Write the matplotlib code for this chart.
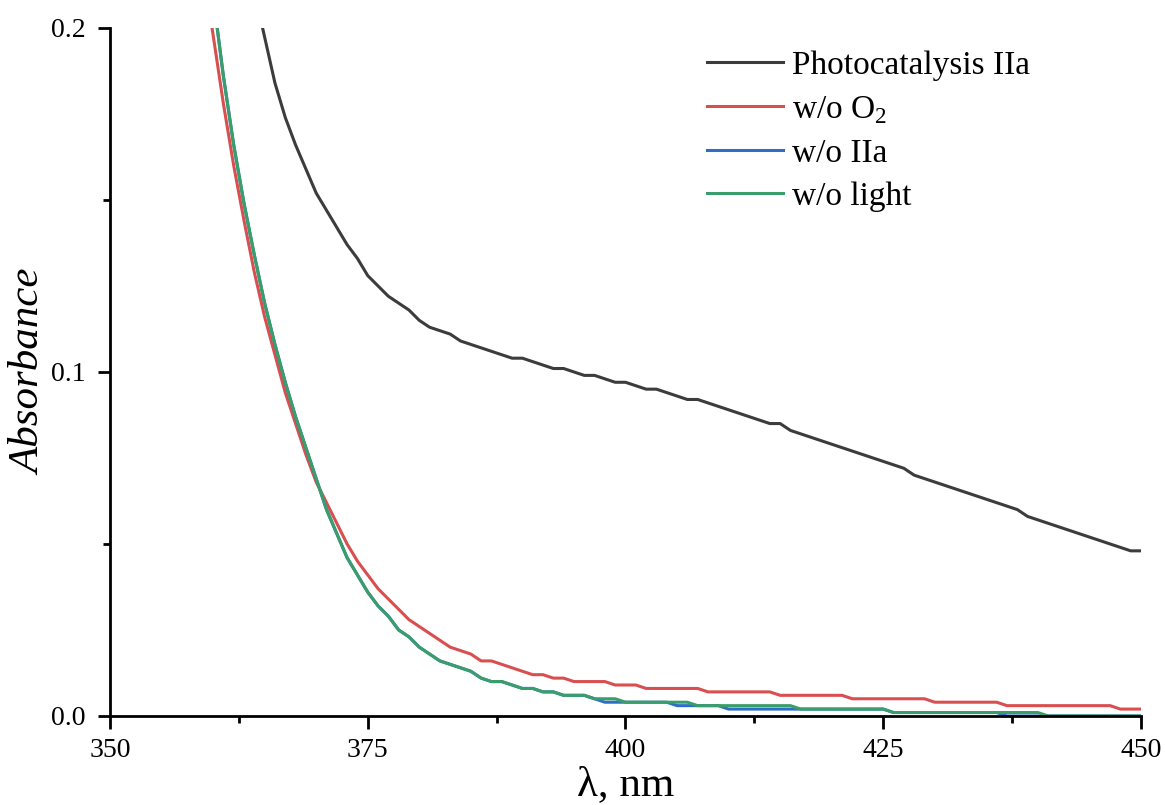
import numpy as np
import matplotlib
matplotlib.use('Agg')
import matplotlib.pyplot as plt
from matplotlib.ticker import MultipleLocator, FormatStrFormatter

plt.rcParams['font.family'] = ['Liberation Serif', 'DejaVu Serif']
plt.rcParams['mathtext.fontset'] = 'custom'
plt.rcParams['mathtext.rm'] = 'Liberation Serif'

# Photocatalysis IIa
wl_photo = [364.8, 366, 367, 368, 369, 370, 371, 372, 373, 374, 375, 376, 377, 378, 379, 380,
            381, 382, 383, 384, 385, 386, 387, 388, 389, 390, 391, 392, 393, 394, 395, 396,
            397, 398, 399, 400, 401, 402, 403, 404, 405, 406, 407, 408, 409, 410, 412, 414,
            415, 416, 418, 420, 422, 424, 426, 427, 428, 430, 432, 434, 436, 438, 439, 440,
            442, 444, 446, 448, 449, 450]
abs_photo = [0.200, 0.184, 0.174, 0.166, 0.159, 0.152, 0.147, 0.142, 0.137, 0.133, 0.128, 0.125,
             0.122, 0.120, 0.118, 0.115, 0.113, 0.112, 0.111, 0.109, 0.108, 0.107, 0.106, 0.105,
             0.104, 0.104, 0.103, 0.102, 0.101, 0.101, 0.100, 0.099, 0.099, 0.098, 0.097, 0.097,
             0.096, 0.095, 0.095, 0.094, 0.093, 0.092, 0.092, 0.091, 0.090, 0.089, 0.087, 0.085,
             0.085, 0.083, 0.081, 0.079, 0.077, 0.075, 0.073, 0.072, 0.070, 0.068, 0.066, 0.064,
             0.062, 0.060, 0.058, 0.057, 0.055, 0.053, 0.051, 0.049, 0.048, 0.048]

# w/o O2
wl_noO2 = [359.9, 361, 362, 363, 364, 365, 366, 367, 368, 369, 370, 371, 372, 373, 374, 375,
           376, 377, 378, 379, 380, 381, 382, 383, 384, 385, 386, 387, 388, 389, 390, 391, 392,
           393, 394, 395, 398, 399, 401, 402, 407, 408, 414, 415, 421, 422, 429, 430, 436, 437,
           447, 448, 450]
abs_noO2 = [0.200, 0.178, 0.160, 0.144, 0.129, 0.116, 0.105, 0.094, 0.085, 0.076, 0.068,
            0.062, 0.056, 0.050, 0.045, 0.041, 0.037, 0.034, 0.031, 0.028, 0.026, 0.024, 0.022,
            0.020, 0.019, 0.018, 0.016, 0.016, 0.015, 0.014, 0.013, 0.012, 0.012, 0.011, 0.011,
            0.010, 0.010, 0.009, 0.009, 0.008, 0.008, 0.007, 0.007, 0.006, 0.006, 0.005, 0.005,
            0.004, 0.004, 0.003, 0.003, 0.002, 0.002]

# w/o IIa
wl_noIIa = [360.4, 361, 362, 363, 364, 365, 366, 367, 368, 369, 370, 371, 372, 373, 374, 375, 376,
            377, 378, 379, 380, 381, 382, 383, 384, 385, 386, 387, 388, 389, 390, 391, 392, 393,
            394, 396, 397, 398, 404, 405, 409, 410, 425, 426, 436, 437, 450]
abs_noIIa = [0.200, 0.186, 0.166, 0.149, 0.134, 0.120, 0.108, 0.097, 0.087, 0.078, 0.069, 0.060,
             0.053, 0.046, 0.041, 0.036, 0.032, 0.029, 0.025, 0.023, 0.020, 0.018, 0.016, 0.015,
             0.014, 0.013, 0.011, 0.010, 0.010, 0.009, 0.008, 0.008, 0.007, 0.007, 0.006, 0.006,
             0.005, 0.004, 0.004, 0.003, 0.003, 0.002, 0.002, 0.001, 0.001, 0.000, 0.000]

# w/o light
wl_nolight = [360.4, 361, 362, 363, 364, 365, 366, 367, 368, 369, 370, 371, 372, 373, 374, 375,
              376, 377, 378, 379, 380, 381, 382, 383, 384, 385, 386, 387, 388, 389, 390, 391,
              392, 393, 394, 396, 397, 399, 400, 406, 407, 416, 417, 425, 426, 440, 441, 450]
abs_nolight = [0.200, 0.186, 0.166, 0.149, 0.134, 0.120, 0.108, 0.097, 0.087, 0.078, 0.069, 0.060,
               0.053, 0.046, 0.041, 0.036, 0.032, 0.029, 0.025, 0.023, 0.020, 0.018, 0.016, 0.015,
               0.014, 0.013, 0.011, 0.010, 0.010, 0.009, 0.008, 0.008, 0.007, 0.007, 0.006, 0.006,
               0.005, 0.005, 0.004, 0.004, 0.003, 0.003, 0.002, 0.002, 0.001, 0.001, 0.000, 0.000]

fig = plt.figure(figsize=(11.65, 8.05), dpi=100)
ax = fig.add_axes([0.0944, 0.1106, 0.885, 0.8547])

lw = 2.2
ax.plot(wl_photo, abs_photo, color='#3c3c3c', lw=lw, label='Photocatalysis IIa')
ax.plot(wl_noO2, abs_noO2, color='#d94f50', lw=lw, label='w/o O$_2$')
ax.plot(wl_noIIa, abs_noIIa, color='#2e6fc6', lw=lw, label='w/o IIa')
ax.plot(wl_nolight, abs_nolight, color='#3a9e6a', lw=lw, label='w/o light')

ax.set_xlim(350, 450)
ax.set_ylim(0, 0.2)
ax.xaxis.set_major_locator(MultipleLocator(25))
ax.xaxis.set_minor_locator(MultipleLocator(12.5))
ax.yaxis.set_major_locator(MultipleLocator(0.1))
ax.yaxis.set_minor_locator(MultipleLocator(0.05))
ax.yaxis.set_major_formatter(FormatStrFormatter('%.1f'))

for s in ['top', 'right']:
    ax.spines[s].set_visible(False)
for s in ['left', 'bottom']:
    ax.spines[s].set_linewidth(2)
ax.tick_params(which='major', direction='out', length=9, width=2, labelsize=20)
ax.tick_params(axis='x', which='major', pad=7)
ax.tick_params(axis='y', which='major', pad=8.5)
ax.tick_params(which='minor', direction='out', length=5, width=2)

ax.set_xlabel('λ, nm', fontsize=31, labelpad=2)
ax.set_ylabel('Absorbance', fontsize=31, style='italic', labelpad=1)

ax.legend(loc='upper left', bbox_to_anchor=(0.579, 0.967), frameon=False, fontsize=24,
          handlelength=2.28, handletextpad=0.27, labelspacing=0.38, borderpad=0, borderaxespad=0)

fig.savefig('out.png', dpi=100)
